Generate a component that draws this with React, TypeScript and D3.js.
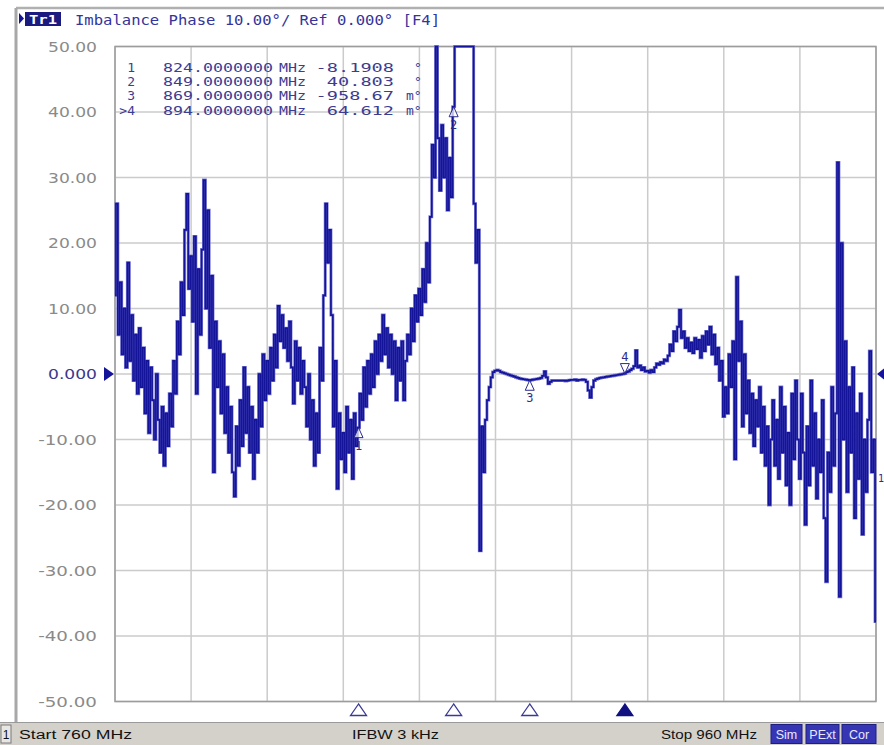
import React from "react";
import * as d3 from "d3";

const START_MHZ = 760;
const STOP_MHZ = 960;
const STEP_MHZ = 0.5;

const Y_TICKS = [50, 40, 30, 20, 10, 0, -10, -20, -30, -40, -50];
const Y_TICK_LABELS = ["50.00", "40.00", "30.00", "20.00", "10.00", "0.000", "-10.00", "-20.00", "-30.00", "-40.00", "-50.00"];
const X_GRID_MHZ = [760, 780, 800, 820, 840, 860, 880, 900, 920, 940, 960];

// Imbalance phase (deg), one value every 0.5 MHz from 760 to 960 MHz
const PHASE_DEG = [
  12, 26, 6, 14, 3, 10, 1, 17, 2, 9, -1, 6, -3, 7, -2, 4, -6, 2, -9, 1,
  -4, -10, 0, -7, -12, -5, -14, -6, -11, -3, -8, 2, -3, 8, 3, 14, 9, 22, 27.5, 13,
  18, 8, 21, -3, 16, 6, 19, 29.6, 10, 25, 4, 15, -15, 8, -2, 5, -6, 3, -9, -2,
  -12, -5, -15, -18.7, -8, -14, -4, -11, 1, -9, -2, -12, -5, -16, -7, -12, 0, -8, 3, -4,
  2, -3, 4, -1, 6, 1, 10.4, 5, 9, 4, 7, 2, 8, 1, -4.5, 5, -1, 4, -3, 2,
  -2, -8, 0, -10, -4, -14, -6, -12, 4, -1, 12, 26, 17, 22, 9, -8, 2, -17.5, -6, -13,
  -9, -15, -5, -12, -7, -16, -6, -11, -8.19, -3, -7, 1, -5, 2, -3, 3, -2, 5, 0, 6,
  2, 9, 3, 7, 1, 6, 0, 5, -4, 4, -1, 5, -4, 2, 6, 3, 10, 5, 12, 8,
  13, 9, 16, 11, 20, 14, 24, 35, 30, 58, 36, 28, 38, 30, 36, 25, 33, 27, 40.8, 58,
  62, 60, 64, 61, 63, 59, 62, 60, 57, 26, 17, 22, -27, -8, -15, -7, -4, -2, -0.5, 0.3,
  0.5, 0.6, 0.5, 0.3, 0.2, 0.1, 0.0, -0.1, -0.2, -0.3, -0.4, -0.5, -0.6, -0.7, -0.75, -0.8, -0.85, -0.9, -0.959, -0.9,
  -0.85, -0.8, -0.75, -0.7, -0.6, -0.3, 0.4, -0.5, -1.5, -1.2, -1.0, -1.0, -1.0, -1.0, -1.0, -1.0, -1.0, -1.05, -1.0, -0.95,
  -0.9, -0.9, -0.85, -1.0, -0.9, -0.9, -0.85, -0.9, -1.2, -2.5, -3.6, -2.0, -1.0, -0.8, -0.7, -0.6, -0.55, -0.5, -0.45, -0.4,
  -0.35, -0.3, -0.25, -0.2, -0.15, -0.1, -0.05, 0.0, 0.065, 0.3, 0.4, 0.6, 0.8, 1.2, 3.6, 1.0, 1.3, 0.6, 1.0, 0.4,
  0.5, 0.2, 0.6, 0.3, 1.0, 1.6, 1.4, 1.8, 1.6, 2.2, 2.0, 2.8, 4.5, 3.5, 6.5, 5.0, 7.2, 9.8, 5.5, 6.5,
  4, 5.5, 3.5, 4.8, 3.2, 5.5, 3.8, 5.2, 2.5, 5.8, 3.5, 6.5, 4.5, 7.2, 3.0, 6.0, 1.5, 4.0, -1, 2,
  -6.5, -2, -6, 3, -2, 5, -13, 14.8, 2, 8, -8, 3, -6, -1, -9, -3, -11, -4, -8, -2,
  -12, -5, -14, -8, -20, -10, -4, -14, -7, -16, -2, -12, -5, -17, -9, -20, -3, -13, -1, -10,
  -16, -3, -12, -23, -8, -17, -1, -14, -6, -19, -10, -15, -4, -22, -31.7, -12, -18, -2, -14, -6,
  32.3, -34, 20, -10, 5, -18, -2, -12, 1, -22, -6, -16, -3, -24.5, -10, -18, -7, 3.5, -15, -10,
  -37.8,
];

const MARKER_IDS = ["1", "2", "3", "4"];
const MARKER_MHZ = [824, 849, 869, 894];
const MARKER_DEG = [-8.1908, 40.803, -0.95867, 0.064612];
const MARKER_FREQ_TEXT = ["824.0000000", "849.0000000", "869.0000000", "894.0000000"];
const MARKER_VALUE_TEXT = ["-8.1908", "40.803", "-958.67", "64.612"];
const MARKER_UNIT_TEXT = ["°", "°", "m°", "m°"];
const ACTIVE_MARKER = 3;

const TITLE = "Imbalance Phase 10.00°/ Ref 0.000° [F4]";
const STATUS_START = "Start 760 MHz";
const STATUS_IFBW = "IFBW 3 kHz";
const STATUS_STOP = "Stop 960 MHz";
const STATUS_FLAGS = ["Sim", "PExt", "Cor"];

// ---- Layout ----
const W = 884;
const H = 745;
const PL = 115;
const PR = 876;
const PT = 46.5;
const PB = 701.5;

const NAVY = "#14149a";
const MARK = "#2c2c8e";
const GRID = "#cbcbcb";
const LABEL = "#8a8a8a";
const MONO = "'DejaVu Sans Mono', 'Liberation Mono', monospace";
const SANS = "'DejaVu Sans', Verdana, sans-serif";
const STATUS_FONT = "'Liberation Sans', Arial, sans-serif";

export default function App() {
  const x = d3.scaleLinear().domain([START_MHZ, STOP_MHZ]).range([PL, PR]);
  const y = d3.scaleLinear().domain([-50, 50]).range([PB, PT]).clamp(true);

  const pts: [number, number][] = PHASE_DEG.map((v, i) => [START_MHZ + i * STEP_MHZ, v]);
  const line = d3
    .line<[number, number]>()
    .x((d) => x(d[0]))
    .y((d) => y(d[1]))
    .curve(d3.curveStep);
  const path = line(pts) || "";

  const tri = (cx: number, cy: number, w: number, h: number, down: boolean) => {
    const p = down
      ? [[cx, cy], [cx - w / 2, cy - h], [cx + w / 2, cy - h]]
      : [[cx, cy], [cx - w / 2, cy + h], [cx + w / 2, cy + h]];
    return p.map((q) => q.join(",")).join(" ");
  };

  const rowY = [72, 86, 100, 114.5];

  return (
    <svg
      width={W}
      height={H}
      viewBox={`0 0 ${W} ${H}`}
      style={{ position: "absolute", left: 0, top: 0, display: "block", background: "#ffffff" }}
    >
      <defs>
        <clipPath id="plotClip">
          <rect x={PL - 1} y={PT - 2} width={PR - PL + 2} height={PB - PT + 4} />
        </clipPath>
      </defs>
      <rect x={0} y={0} width={W} height={H} fill="#ffffff" />

      {/* outer frame */}
      <line x1={16} y1={8} x2={W} y2={8} stroke="#b0b0b0" strokeWidth={2.5} />
      <line x1={16} y1={8} x2={16} y2={722} stroke="#a8a8a8" strokeWidth={3} />

      {/* title */}
      <path d="M19,13 L24,18.5 L19,24 Z" fill={NAVY} />
      <rect x={25} y={12} width={36} height={14} fill="#1a1a80" />
      <text x={29} y={23.5} fontFamily={MONO} fontSize={12} fontWeight="bold" fill="#ffffff" textLength={28} lengthAdjust="spacingAndGlyphs">
        Tr1
      </text>
      <text x={75} y={24.5} fontFamily={MONO} fontSize={14.5} fill="#34349a" textLength={365} lengthAdjust="spacingAndGlyphs">
        {TITLE}
      </text>

      {/* grid */}
      {X_GRID_MHZ.map((f) => (
        <line key={"gx" + f} x1={x(f)} x2={x(f)} y1={PT} y2={PB} stroke={GRID} strokeWidth={1.5} />
      ))}
      {Y_TICKS.map((v) => (
        <line key={"gy" + v} x1={PL} x2={PR} y1={y(v)} y2={y(v)} stroke={GRID} strokeWidth={1.5} />
      ))}
      <rect x={PL} y={PT} width={PR - PL} height={PB - PT} fill="none" stroke="#9c9c9c" strokeWidth={1.5} />

      {/* y labels */}
      {Y_TICKS.map((v, i) => {
        const s = Y_TICK_LABELS[i];
        return (
          <text
            key={"yl" + v}
            x={97}
            y={y(v) + 5}
            textAnchor="end"
            fontFamily={SANS}
            fontSize={13.5}
            fill={v === 0 ? "#3a3a8c" : LABEL}
            textLength={s.length * 9.8}
            lengthAdjust="spacingAndGlyphs"
          >
            {s}
          </text>
        );
      })}

      {/* marker table */}
      {MARKER_IDS.map((id, i) => (
        <g key={"mt" + id} fontFamily={MONO} fontSize={13} fill="#3c3c92">
          <text x={135} y={rowY[i]} textAnchor="end">
            {i === ACTIVE_MARKER ? ">" + id : id}
          </text>
          <text x={163} y={rowY[i]} textLength={110} lengthAdjust="spacingAndGlyphs">
            {MARKER_FREQ_TEXT[i]}
          </text>
          <text x={279} y={rowY[i]} textLength={27} lengthAdjust="spacingAndGlyphs">
            MHz
          </text>
          <text x={394} y={rowY[i]} textAnchor="end" textLength={MARKER_VALUE_TEXT[i].length * 11.2} lengthAdjust="spacingAndGlyphs">
            {MARKER_VALUE_TEXT[i]}
          </text>
          <text x={MARKER_UNIT_TEXT[i].length > 1 ? 406 : 414} y={rowY[i]}>
            {MARKER_UNIT_TEXT[i]}
          </text>
        </g>
      ))}

      {/* trace */}
      <g clipPath="url(#plotClip)">
        <path d={path} fill="none" stroke="#8080d6" strokeWidth={3} strokeLinejoin="miter" />
        <path d={path} fill="none" stroke={NAVY} strokeWidth={1.7} strokeLinejoin="miter" />
      </g>

      {/* markers on trace */}
      {MARKER_IDS.map((id, i) => {
        const cx = x(MARKER_MHZ[i]);
        const cy = y(MARKER_DEG[i]);
        const down = i === ACTIVE_MARKER;
        return (
          <g key={"mk" + id}>
            <polygon points={tri(cx, cy, 9, 10, down)} fill="#ffffff" fillOpacity={0.7} stroke={MARK} strokeWidth={1} />
            <text
              x={cx}
              y={down ? cy - 13 : cy + 22}
              textAnchor="middle"
              fontFamily={MONO}
              fontSize={12}
              fill={MARK}
            >
              {id}
            </text>
          </g>
        );
      })}

      {/* reference position arrows */}
      <path d={`M104,${y(0) - 7} L114,${y(0)} L104,${y(0) + 7} Z`} fill={NAVY} />
      <path d={`M886,${y(0) - 7} L877,${y(0)} L886,${y(0) + 7} Z`} fill={NAVY} />
      <text x={878} y={482} fontFamily={MONO} fontSize={10} fill={MARK}>
        1
      </text>

      {/* marker position symbols below the grid */}
      {MARKER_MHZ.map((f, i) => {
        const cx = x(f);
        const active = i === ACTIVE_MARKER;
        return (
          <polygon
            key={"mb" + i}
            points={`${cx},704 ${cx - 8},715.5 ${cx + 8},715.5`}
            fill={active ? "#101080" : "#ffffff"}
            stroke={active ? "#101080" : "#3a3a96"}
            strokeWidth={1.3}
          />
        );
      })}

      {/* status bar */}
      <rect x={0} y={722} width={W} height={23} fill="#d4d1cb" />
      <line x1={0} y1={722.5} x2={W} y2={722.5} stroke="#9a9a9a" strokeWidth={1} />
      <rect x={1} y={725} width={10} height={18} fill="#e8e6e2" stroke="#7a7a7a" strokeWidth={1} />
      <text x={6} y={739} textAnchor="middle" fontFamily={STATUS_FONT} fontSize={12} fill="#111111">
        1
      </text>
      <text x={19} y={739} fontFamily={STATUS_FONT} fontSize={12.5} fill="#111111" textLength={113} lengthAdjust="spacingAndGlyphs">
        {STATUS_START}
      </text>
      <text x={352} y={739} fontFamily={STATUS_FONT} fontSize={12.5} fill="#111111" textLength={87} lengthAdjust="spacingAndGlyphs">
        {STATUS_IFBW}
      </text>
      <text x={661} y={739} fontFamily={STATUS_FONT} fontSize={12.5} fill="#111111" textLength={96} lengthAdjust="spacingAndGlyphs">
        {STATUS_STOP}
      </text>
      {STATUS_FLAGS.map((s, i) => {
        const bx = [771, 806, 842][i];
        const bw = [31, 33, 34][i];
        return (
          <g key={"fl" + s}>
            <rect x={bx} y={724.5} width={bw} height={19} fill="#3636b4" stroke="#1e1e80" strokeWidth={1} />
            <text
              x={bx + bw / 2}
              y={739}
              textAnchor="middle"
              fontFamily={STATUS_FONT}
              fontSize={12.5}
              fill="#e8e8ff"
            >
              {s}
            </text>
          </g>
        );
      })}
    </svg>
  );
}
